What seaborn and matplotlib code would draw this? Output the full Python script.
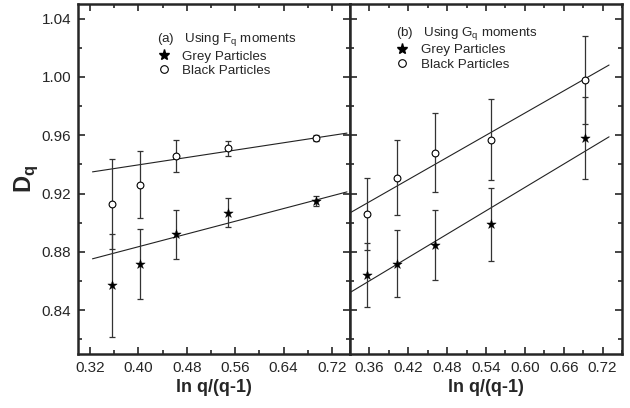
import numpy as np
import pandas as pd
import matplotlib
matplotlib.use('Agg')
import matplotlib.pyplot as plt
from matplotlib.ticker import MultipleLocator
from matplotlib.lines import Line2D
import seaborn as sns

# dados
x_q = [0.357, 0.402, 0.462, 0.548, 0.693]

fq_grey = [0.857, 0.872, 0.892, 0.907, 0.915]
fq_grey_err = [0.035, 0.024, 0.017, 0.010, 0.0035]
fq_black = [0.913, 0.926, 0.946, 0.951, 0.958]
fq_black_err = [0.031, 0.023, 0.011, 0.005, 0.002]

gq_grey = [0.864, 0.872, 0.885, 0.899, 0.958]
gq_grey_err = [0.022, 0.023, 0.024, 0.025, 0.028]
gq_black = [0.906, 0.931, 0.948, 0.957, 0.998]
gq_black_err = [0.025, 0.026, 0.027, 0.028, 0.030]

# intervalo das retas de ajuste
fit_span_a = [0.324, 0.745]
fit_span_b = [0.33, 0.73]

sns.set_style('ticks')
plt.rcParams['font.family'] = ['Liberation Sans', 'DejaVu Sans']
plt.rcParams['mathtext.fontset'] = 'custom'
plt.rcParams['mathtext.rm'] = 'Liberation Sans'
plt.rcParams['mathtext.bf'] = 'Liberation Sans:bold'

fig = plt.figure(figsize=(6.3, 4.08), dpi=100)
ax1 = fig.add_axes([78 / 630, 54 / 408, 272 / 630, 350 / 408])
ax2 = fig.add_axes([350 / 630, 54 / 408, 272 / 630, 350 / 408])


def draw_panel(ax, grey, grey_err, black, black_err, span, title, anchor):
    for y, err in [(grey, grey_err), (black, black_err)]:
        ax.errorbar(x_q, y, yerr=err, fmt='none', ecolor='#333333', elinewidth=0.9,
                    capsize=2.3, capthick=0.9, zorder=2)
        # reta de ajuste ponderada
        coef = np.polyfit(x_q, y, 1, w=1 / np.array(err))
        xs = np.array(span)
        line = pd.DataFrame({'x': xs, 'y': np.polyval(coef, xs)})
        sns.lineplot(data=line, x='x', y='y', ax=ax, color='#222222', linewidth=0.8, zorder=1)
    df_g = pd.DataFrame({'x': x_q, 'y': grey})
    df_b = pd.DataFrame({'x': x_q, 'y': black})
    sns.scatterplot(data=df_g, x='x', y='y', ax=ax, marker='*', s=50, color='black',
                    edgecolor='black', linewidth=0.3, zorder=3)
    sns.scatterplot(data=df_b, x='x', y='y', ax=ax, marker='o', s=24, facecolor='white',
                    edgecolor='black', linewidth=0.8, zorder=3)
    handles = [Line2D([], [], ls='none', marker='*', ms=8, color='black'),
               Line2D([], [], ls='none', marker='o', ms=5.5, mfc='white', mec='black', mew=0.8)]
    leg = ax.legend(handles, ['Grey Particles', 'Black Particles'], title=title,
                    frameon=False, fontsize=9.6, title_fontsize=9.6, handlelength=1.0,
                    handletextpad=0.9, labelspacing=0.15, borderaxespad=0.0, borderpad=0.0,
                    loc='upper left', bbox_to_anchor=anchor)
    leg._legend_box.align = 'left'
    ax.set_ylim(0.81, 1.05)
    ax.yaxis.set_major_locator(MultipleLocator(0.04))
    ax.yaxis.set_minor_locator(MultipleLocator(0.02))
    ax.tick_params(which='both', direction='in', top=True, right=True, width=1.2)
    ax.tick_params(which='major', length=5, labelsize=11, pad=5)
    ax.tick_params(which='minor', length=3)
    for sp in ax.spines.values():
        sp.set_linewidth(1.8)
    ax.set_xlabel('ln q/(q-1)', fontsize=13, fontweight='bold', labelpad=3)


draw_panel(ax1, fq_grey, fq_grey_err, fq_black, fq_black_err, fit_span_a,
           '(a)   Using F$_\\mathregular{q}$ moments', (0.29, 0.922))
draw_panel(ax2, gq_grey, gq_grey_err, gq_black, gq_black_err, fit_span_b,
           '(b)   Using G$_\\mathregular{q}$ moments', (0.168, 0.94))

ax1.set_xlim(0.30, 0.75)
ax1.xaxis.set_major_locator(MultipleLocator(0.08))
ax1.xaxis.set_minor_locator(MultipleLocator(0.04))
ax1.set_ylabel('$\\mathbf{D}_{\\mathbf{q}}$', fontsize=17, labelpad=1)
ax1.yaxis.set_major_formatter(plt.FormatStrFormatter('%.2f'))
ax1.xaxis.set_major_formatter(plt.FormatStrFormatter('%.2f'))

ax2.set_xlim(0.33, 0.75)
ax2.xaxis.set_major_locator(MultipleLocator(0.06))
ax2.xaxis.set_minor_locator(MultipleLocator(0.03))
ax2.xaxis.set_major_formatter(plt.FormatStrFormatter('%.2f'))
ax2.set_ylabel('')
ax2.tick_params(labelleft=False)

fig.savefig('out.png', dpi=100)
